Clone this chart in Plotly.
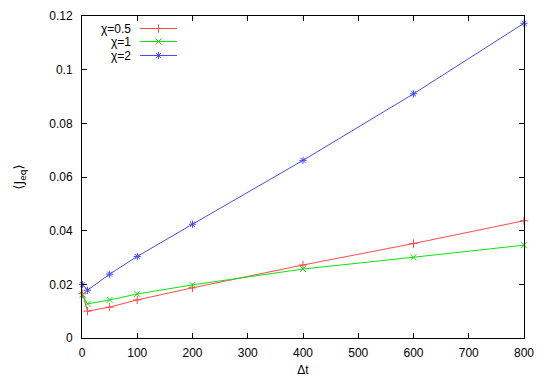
import plotly.graph_objects as go

dt = [1, 10, 50, 100, 200, 400, 600, 800]
j_chi05 = [0.0165, 0.0100, 0.0115, 0.0142, 0.0187, 0.0272, 0.0352, 0.0437]
j_chi1 = [0.0162, 0.0127, 0.0142, 0.0164, 0.0198, 0.0257, 0.0301, 0.0346]
j_chi2 = [0.0199, 0.0178, 0.0238, 0.0304, 0.0424, 0.0662, 0.0910, 0.1173]

series_names = ["χ=0.5", "χ=1", "χ=2"]
series_vals = [j_chi05, j_chi1, j_chi2]
colors = ["#ff4a4a", "#11e011", "#4a4aff"]
symbols = ["cross-thin-open", "x-thin-open", "asterisk-open"]

x_ticks = [0, 100, 200, 300, 400, 500, 600, 700, 800]
y_ticks = [0, 0.02, 0.04, 0.06, 0.08, 0.1, 0.12]
y_tick_text = ["0", "0.02", "0.04", "0.06", "0.08", "0.1", "0.12"]

FONT = "Liberation Sans, Arial, DejaVu Sans, sans-serif"

fig = go.Figure()
for name, vals, c, s in zip(series_names, series_vals, colors, symbols):
    fig.add_trace(go.Scatter(
        x=dt, y=vals, mode="lines+markers", name=name,
        line=dict(color=c, width=1),
        marker=dict(symbol=s, size=6, line=dict(color=c, width=1), color=c),
        cliponaxis=False, showlegend=False,
    ))

# gnuplot-style legend (text right, sample to the right), in pixel-like overlay coords
L, R, T, B = 82, 524, 16, 338
row_y = [28.5, 41.5, 55.5]
for name, c, s, yy in zip(series_names, colors, symbols, row_y):
    fig.add_shape(type="line", x0=140, x1=177, y0=yy, y1=yy, xref="x2", yref="y2",
                  line=dict(color=c, width=1.2))
    fig.add_trace(go.Scatter(
        x=[158.5], y=[yy], xaxis="x2", yaxis="y2", mode="markers",
        marker=dict(symbol=s, size=6, line=dict(color=c, width=1), color=c),
        showlegend=False, hoverinfo="skip"))
    fig.add_annotation(x=133, y=yy, xref="x2", yref="y2", text=name,
                       showarrow=False, xanchor="right", yanchor="middle",
                       font=dict(family=FONT, size=12, color="black"))

axis_common = dict(
    showgrid=False, zeroline=False, showline=True, linecolor="black", linewidth=1,
    mirror="allticks", ticks="inside", ticklen=5, tickcolor="black", tickwidth=1,
    tickfont=dict(family=FONT, size=12, color="black"), automargin=False,
)

fig.update_layout(
    width=545, height=382,
    margin=dict(l=L, r=545 - R, t=T, b=382 - B),
    paper_bgcolor="white", plot_bgcolor="white",
    font=dict(family=FONT, size=12, color="black"),
    xaxis=dict(range=[0, 800], tickvals=x_ticks, ticklabelstandoff=4,
               title=dict(text="Δt", font=dict(family=FONT, size=12), standoff=6),
               **axis_common),
    yaxis=dict(range=[0, 0.12], tickvals=y_ticks, ticktext=y_tick_text,
               ticklabelstandoff=6,
               title=dict(text="⟨J<sub>eq</sub>⟩",
                          font=dict(family="DejaVu Sans, sans-serif", size=13),
                          standoff=22),
               **axis_common),
    xaxis2=dict(range=[L, R], overlaying="x", visible=False, fixedrange=True),
    yaxis2=dict(range=[B, T], overlaying="y", visible=False, fixedrange=True),
)

fig.write_html("out.html", config={"displayModeBar": False},
               post_script="document.body.style.margin='0px';document.body.style.overflow='hidden';")
